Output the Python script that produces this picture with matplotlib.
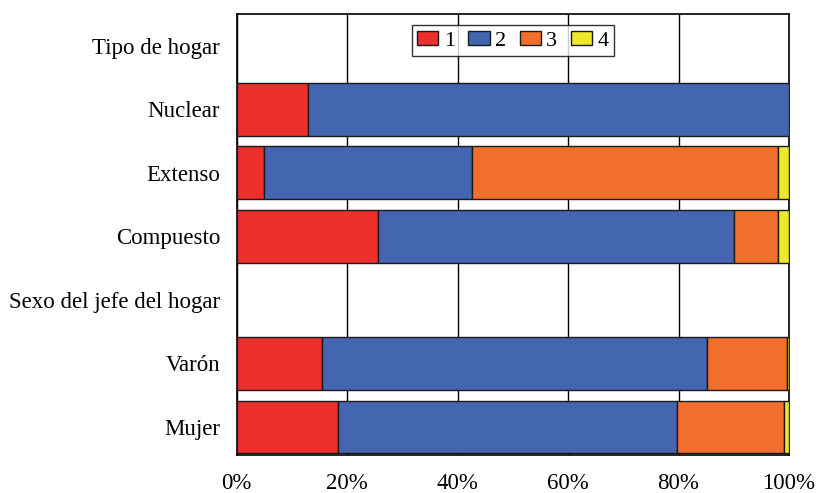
import matplotlib
matplotlib.use("Agg")
import matplotlib.pyplot as plt
import numpy as np

categories = ["Tipo de hogar", "Nuclear", "Extenso", "Compuesto",
              "Sexo del jefe del hogar", "Varón", "Mujer"]
series_names = ["1", "2", "3", "4"]
# percentages per category (header rows are empty)
s1 = [0, 12.9, 4.9, 25.6, 0, 15.5, 18.4]
s2 = [0, 87.1, 37.7, 64.4, 0, 69.7, 61.4]
s3 = [0, 0.0, 55.4, 8.1, 0, 14.4, 19.3]
s4 = [0, 0.0, 2.0, 1.9, 0, 0.4, 0.9]
xticks = [0, 20, 40, 60, 80, 100]
xtick_labels = ["0%", "20%", "40%", "60%", "80%", "100%"]

colors = ["#EE302C", "#4466B0", "#F26E2C", "#EEE82A"]

plt.rcParams["font.family"] = ["Liberation Serif", "DejaVu Serif"]
FS = 16.5

fig = plt.figure(figsize=(8.17, 4.93), dpi=100)
ax = fig.add_axes([0.2897, 0.0771, 0.9657 - 0.2897, 0.9716 - 0.0771])

y = np.arange(len(categories))
left = np.zeros(len(categories))
for name, vals, c in zip(series_names, [s1, s2, s3, s4], colors):
    vals = np.array(vals, dtype=float)
    keep = vals > 0
    ax.barh(y[keep], vals[keep], left=left[keep], height=0.83, color=c,
            edgecolor="#1a1a1a", linewidth=1.0, label=name, zorder=3)
    left += vals

ax.set_xlim(0, 100)
ax.set_ylim(6.44, -0.5)
ax.set_yticks(y)
ax.set_yticklabels(categories, fontsize=FS)
ax.set_xticks(xticks)
ax.set_xticklabels(xtick_labels, fontsize=FS)
ax.tick_params(axis="x", length=0, pad=13)
ax.tick_params(axis="y", length=0, pad=12)
ax.xaxis.grid(True, color="black", linewidth=1.0, zorder=0)
for sp in ax.spines.values():
    sp.set_color("black")
    sp.set_linewidth(1.2)

leg = ax.legend(loc="upper center", ncol=4, bbox_to_anchor=(0.5, 0.982),
                fontsize=16, frameon=True, fancybox=False, edgecolor="black",
                handlelength=0.95, handleheight=0.6, handletextpad=0.25,
                columnspacing=0.6, borderpad=0.25, borderaxespad=0.15)
leg.get_frame().set_linewidth(1.0)

fig.savefig("out.png", dpi=100)
